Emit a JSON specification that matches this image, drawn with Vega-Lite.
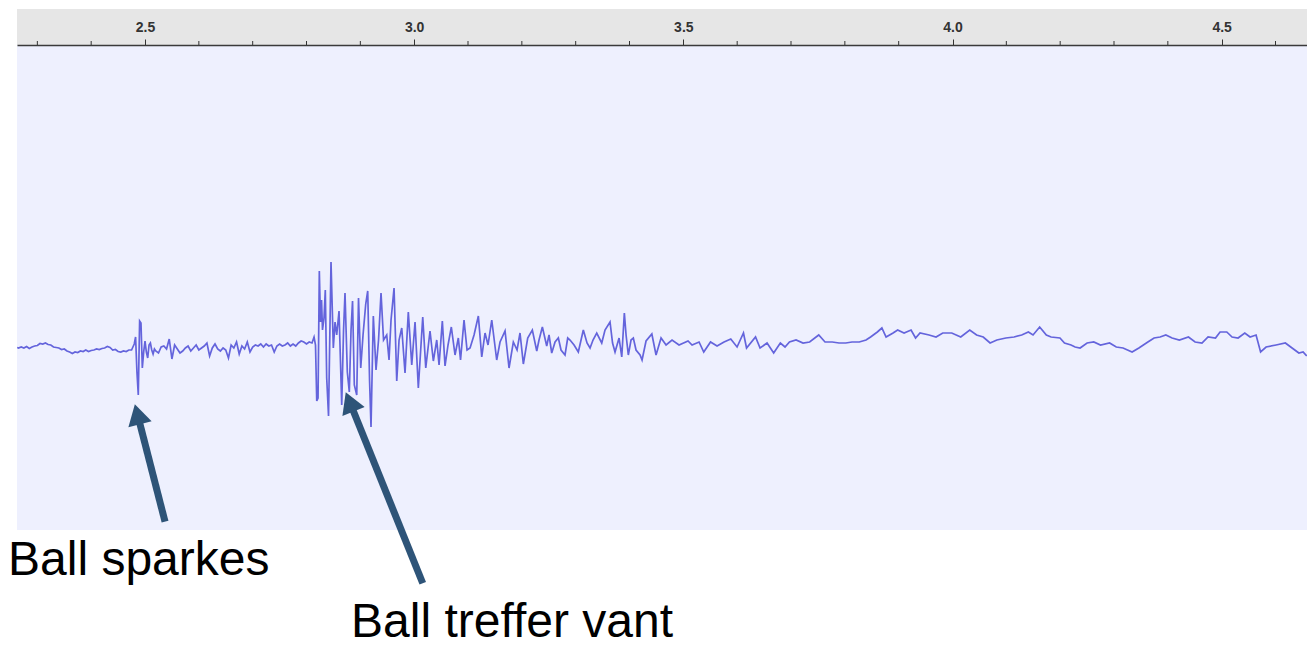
{
"$schema":"https://vega.github.io/schema/vega-lite/v6.json",
"autosize":{"type":"none"},
"padding":{"left":17,"top":45,"right":0,"bottom":118},
"width":1290,"height":485,
"background":"#ffffff",
"config":{"view":{"fill":"#eef0fe","stroke":null}},
"datasets":{
"wave":[
{"t":2.2625,"a":0.0025},{"t":2.265,"a":0},{"t":2.27,"a":0.005},{"t":2.275,"a":0},{"t":2.28,"a":0.0075},{"t":2.285,"a":-0.0025},{"t":2.29,"a":0.005},{"t":2.295,"a":0.01},{"t":2.3,"a":0.0125},{"t":2.305,"a":0.0225},{"t":2.31,"a":0.02},{"t":2.315,"a":0.025},{"t":2.32,"a":0.0175},{"t":2.325,"a":0.015},{"t":2.33,"a":0.005},{"t":2.335,"a":0.0025},{"t":2.34,"a":0},{"t":2.345,"a":-0.0075},{"t":2.35,"a":-0.005},{"t":2.355,"a":-0.015},{"t":2.36,"a":-0.02},{"t":2.365,"a":-0.0275},{"t":2.37,"a":-0.02},{"t":2.375,"a":-0.0225},{"t":2.38,"a":-0.015},{"t":2.385,"a":-0.0175},{"t":2.39,"a":-0.01},{"t":2.395,"a":-0.0175},{"t":2.4,"a":-0.0125},{"t":2.405,"a":-0.01},{"t":2.41,"a":-0.005},{"t":2.415,"a":-0.0075},{"t":2.42,"a":-0.0025},{"t":2.425,"a":0},{"t":2.43,"a":0.0075},{"t":2.435,"a":0.0025},{"t":2.44,"a":-0.01},{"t":2.445,"a":-0.0075},{"t":2.45,"a":-0.0175},{"t":2.455,"a":-0.02},{"t":2.46,"a":-0.015},{"t":2.465,"a":-0.0175},{"t":2.47,"a":-0.01},
{"t":2.4725,"a":-0.01},{"t":2.475,"a":-0.01},{"t":2.4775,"a":0.005},{"t":2.48,"a":0.02},{"t":2.4825,"a":0.055},{"t":2.485,"a":-0.12},{"t":2.4875,"a":-0.235},{"t":2.49,"a":0.135},{"t":2.4925,"a":0.125},{"t":2.495,"a":-0.1},{"t":2.4975,"a":-0.02},{"t":2.5,"a":0.035},{"t":2.5025,"a":-0.02},{"t":2.505,"a":-0.05},{"t":2.5075,"a":0.015},{"t":2.51,"a":0.025},{"t":2.5125,"a":-0.01},{"t":2.515,"a":-0.03},{"t":2.5175,"a":-0.005},{"t":2.52,"a":-0.015},{"t":2.525,"a":-0.025},{"t":2.53,"a":0.005},
{"t":2.535,"a":0.01},{"t":2.54,"a":-0.005},{"t":2.545,"a":0.045},{"t":2.55,"a":-0.055},{"t":2.555,"a":0.015},{"t":2.56,"a":-0.005},{"t":2.565,"a":-0.025},{"t":2.57,"a":-0.015},{"t":2.575,"a":0},{"t":2.58,"a":0.01},{"t":2.585,"a":-0.015},{"t":2.59,"a":0},{"t":2.595,"a":0.015},{"t":2.6,"a":-0.01},{"t":2.605,"a":0},{"t":2.61,"a":0.01},{"t":2.615,"a":0.025},{"t":2.62,"a":-0.04},{"t":2.625,"a":0},{"t":2.63,"a":0.02},{"t":2.635,"a":-0.005},{"t":2.64,"a":-0.015},{"t":2.645,"a":0},{"t":2.65,"a":-0.01},{"t":2.655,"a":-0.05},{"t":2.66,"a":0.015},{"t":2.665,"a":0},{"t":2.67,"a":0.03},{"t":2.675,"a":-0.03},{"t":2.68,"a":0.01},{"t":2.685,"a":-0.005},{"t":2.69,"a":0.03},{"t":2.695,"a":-0.02},{"t":2.7,"a":0.005},{"t":2.705,"a":0.015},{"t":2.71,"a":0.01},{"t":2.715,"a":0.02},{"t":2.72,"a":0.005},{"t":2.725,"a":0.02},{"t":2.73,"a":0.01},{"t":2.735,"a":0.015},{"t":2.74,"a":-0.02},{"t":2.745,"a":0.01},{"t":2.75,"a":0.02},{"t":2.755,"a":0.01},{"t":2.76,"a":0.015},{"t":2.765,"a":0.025},{"t":2.77,"a":0.01},{"t":2.775,"a":0.02},{"t":2.78,"a":0.01},{"t":2.785,"a":0.025},{"t":2.79,"a":0.035},{"t":2.795,"a":0.03},{"t":2.8,"a":0.02},{"t":2.805,"a":0.03},
{"t":2.8102,"a":0.025},{"t":2.814,"a":0.055},{"t":2.8167,"a":0.015},{"t":2.819,"a":-0.265},{"t":2.8214,"a":-0.25},{"t":2.8238,"a":0.385},{"t":2.826,"a":0.13},{"t":2.8279,"a":0.24},{"t":2.8297,"a":0.09},{"t":2.8325,"a":0.15},{"t":2.8349,"a":0.29},{"t":2.8375,"a":-0.15},{"t":2.8409,"a":-0.34},{"t":2.8455,"a":0.43},{"t":2.8498,"a":0},{"t":2.853,"a":0.13},{"t":2.8561,"a":0.065},{"t":2.8604,"a":0.185},{"t":2.8654,"a":-0.285},{"t":2.8688,"a":0.09},{"t":2.8715,"a":0.275},{"t":2.8758,"a":-0.12},{"t":2.8795,"a":-0.22},{"t":2.8827,"a":0.09},{"t":2.8855,"a":0.235},{"t":2.8888,"a":-0.185},{"t":2.8933,"a":-0.235},{"t":2.8966,"a":0.25},{"t":2.9007,"a":-0.1},{"t":2.905,"a":0.065},{"t":2.91,"a":0.22},{"t":2.9137,"a":0.285},{"t":2.9171,"a":-0.16},{"t":2.9198,"a":-0.395},{"t":2.9241,"a":0.16},{"t":2.9291,"a":-0.11},{"t":2.9338,"a":0.04},{"t":2.9384,"a":0.275},{"t":2.9431,"a":0.04},{"t":2.949,"a":0.065},{"t":2.9533,"a":-0.06},{"t":2.957,"a":0.14},{"t":2.9626,"a":0.3},{"t":2.9676,"a":-0.165},{"t":2.9719,"a":0.04},{"t":2.9769,"a":0.1},{"t":2.983,"a":-0.125},{"t":2.9891,"a":0.18},{"t":2.9955,"a":-0.085},{"t":3.0016,"a":0.13},{"t":3.0077,"a":-0.2},{"t":3.0159,"a":0.155},{"t":3.0215,"a":-0.1},{"t":3.0294,"a":0.085},{"t":3.0356,"a":-0.065},{"t":3.0419,"a":0.04},{"t":3.0462,"a":-0.085},{"t":3.0523,"a":0.135},{"t":3.0573,"a":-0.09},{"t":3.0629,"a":0.015},{"t":3.069,"a":0.105},{"t":3.0759,"a":-0.035},{"t":3.082,"a":0.05},{"t":3.0861,"a":-0.06},{"t":3.0926,"a":0.14},{"t":3.0982,"a":-0.01},
{"t":3.1038,"a":0},{"t":3.1112,"a":0.065},{"t":3.1192,"a":0.16},{"t":3.1255,"a":-0.045},{"t":3.1316,"a":0.075},{"t":3.1372,"a":0.015},{"t":3.1441,"a":0.14},{"t":3.1533,"a":-0.06},{"t":3.1595,"a":0.03},{"t":3.1688,"a":0.085},{"t":3.1762,"a":-0.1},{"t":3.1842,"a":0.03},{"t":3.1911,"a":-0.01},{"t":3.1966,"a":0.075},{"t":3.2028,"a":-0.08},{"t":3.2109,"a":0.05},{"t":3.2195,"a":0.09},{"t":3.2277,"a":-0.015},{"t":3.2319,"a":0.04},{"t":3.2381,"a":0.105},{"t":3.2462,"a":0.01},{"t":3.2505,"a":0.065},{"t":3.2555,"a":-0.025},{"t":3.2617,"a":0.03},{"t":3.2678,"a":0.05},{"t":3.2728,"a":-0.01},{"t":3.2802,"a":-0.035},{"t":3.2852,"a":0.05},{"t":3.2895,"a":0.04},{"t":3.297,"a":0.015},{"t":3.3049,"a":-0.02},{"t":3.3142,"a":0.09},{"t":3.3211,"a":0.025},{"t":3.3267,"a":0},{"t":3.3322,"a":0.04},{"t":3.3391,"a":0.075},{"t":3.3484,"a":0.025},{"t":3.3545,"a":0.09},{"t":3.3638,"a":0.13},{"t":3.3685,"a":0.025},{"t":3.3731,"a":-0.02},{"t":3.3806,"a":0.05},{"t":3.3856,"a":-0.045},{"t":3.3904,"a":0.175},{"t":3.3936,"a":0.065},{"t":3.3978,"a":-0.035},{"t":3.4028,"a":0.04},{"t":3.4071,"a":0.05},{"t":3.4121,"a":-0.01},{"t":3.4196,"a":-0.035},{"t":3.4233,"a":-0.06},{"t":3.4307,"a":0.035},{"t":3.4415,"a":0.07},{"t":3.4493,"a":-0.035},{"t":3.4586,"a":0.05},{"t":3.4679,"a":0.015},{"t":3.479,"a":0.04},{"t":3.492,"a":0.015},{"t":3.5087,"a":0.035},{"t":3.5162,"a":0.015},{"t":3.5292,"a":0.03},{"t":3.5379,"a":-0.02},{"t":3.5505,"a":0.03},{"t":3.5626,"a":0.01},{"t":3.5756,"a":0.03},{"t":3.5881,"a":0.045},{"t":3.5998,"a":0.005},{"t":3.6117,"a":0.075},{"t":3.6174,"a":0},{"t":3.6341,"a":0.055},{"t":3.6425,"a":0},{"t":3.6555,"a":0.025},{"t":3.6678,"a":-0.025},{"t":3.6802,"a":0.025},{"t":3.6889,"a":0.005},{"t":3.6971,"a":0.03},{"t":3.7094,"a":0.04},{"t":3.7224,"a":0.025},{"t":3.7346,"a":0.03},{"t":3.7515,"a":0.065},{"t":3.7632,"a":0.03},{"t":3.7766,"a":0.03},{"t":3.7892,"a":0.025},{"t":3.8017,"a":0.025},{"t":3.8134,"a":0.03},{"t":3.8268,"a":0.03},{"t":3.8394,"a":0.04},{"t":3.8478,"a":0.055},{"t":3.8604,"a":0.08},{"t":3.8688,"a":0.1},{"t":3.8766,"a":0.055},{"t":3.8896,"a":0.075},{"t":3.8981,"a":0.09},{"t":3.91,"a":0.075},{"t":3.923,"a":0.09},{"t":3.9314,"a":0.05},{"t":3.9397,"a":0.075},{"t":3.9564,"a":0.065},{"t":3.9694,"a":0.055},{"t":3.9819,"a":0.075},{"t":3.9986,"a":0.075},{"t":4.0153,"a":0.055},{"t":4.032,"a":0.09},{"t":4.0447,"a":0.065},{"t":4.0571,"a":0.055},{"t":4.0698,"a":0.025},{"t":4.0824,"a":0.04},{"t":4.0991,"a":0.05},{"t":4.1143,"a":0.055},{"t":4.1285,"a":0.065},{"t":4.1409,"a":0.08},{"t":4.1496,"a":0.065},{"t":4.1619,"a":0.105},{"t":4.1743,"a":0.065},{"t":4.1831,"a":0.055},{"t":4.1996,"a":0.05},{"t":4.208,"a":0.025},{"t":4.2202,"a":0.015},{"t":4.2277,"a":0.005},{"t":4.237,"a":0},{"t":4.25,"a":0.025},{"t":4.2624,"a":0.03},{"t":4.275,"a":0.015},{"t":4.2918,"a":0.025},{"t":4.3042,"a":0.005},{"t":4.3168,"a":0},{"t":4.3336,"a":-0.02},{"t":4.3462,"a":0},{"t":4.3629,"a":0.03},{"t":4.3744,"a":0.05},{"t":4.3856,"a":0.055},{"t":4.3963,"a":0.065},{"t":4.4079,"a":0.05},{"t":4.4214,"a":0.04},{"t":4.4383,"a":0.055},{"t":4.4506,"a":0.03},{"t":4.4634,"a":0.025},{"t":4.4747,"a":0.055},{"t":4.4885,"a":0.05},{"t":4.497,"a":0.08},{"t":4.5095,"a":0.08},{"t":4.5193,"a":0.055},{"t":4.5305,"a":0.05},{"t":4.5429,"a":0.075},{"t":4.5528,"a":0.055},{"t":4.5639,"a":0.065},{"t":4.5723,"a":-0.02},{"t":4.5825,"a":0.005},{"t":4.6011,"a":0.015},{"t":4.6183,"a":0.025},{"t":4.6308,"a":0},{"t":4.6434,"a":-0.025},{"t":4.6512,"a":-0.02},{"t":4.658,"a":-0.04}
],
"minor":[{"t":2.3},{"t":2.4},{"t":2.6},{"t":2.7},{"t":2.8},{"t":2.9},{"t":3.1},{"t":3.2},{"t":3.3},{"t":3.4},{"t":3.6},{"t":3.7},{"t":3.8},{"t":3.9},{"t":4.1},{"t":4.2},{"t":4.3},{"t":4.4},{"t":4.6}],
"notes":[
{"label":"Ball sparkes","t0":2.5372,"a0":-0.8685,"t1":2.4859,"a1":-0.331,"dir":345.6,"lt":2.2455,"la":-1.135},
{"label":"Ball treffer vant","t0":3.0159,"a0":-1.1765,"t1":2.8801,"a1":-0.269,"dir":338,"lt":2.8827,"la":-1.445}
]
},
"layer":[
{
"data":{"values":[{"x0":2.2622,"x1":4.6585,"y0":1.515,"y1":1.695}]},
"mark":{"type":"rect","color":"#e6e6e6","clip":false},
"encoding":{
"x":{"field":"x0","type":"quantitative","scale":{"domain":[2.2622,4.6585],"nice":false,"zero":false},
"axis":{"orient":"top","title":null,"grid":false,"zindex":1,
"values":[2.5,3.0,3.5,4.0,4.5],
"format":".1f",
"tickSize":6,"tickColor":"#333333","tickWidth":1,"domainColor":"#3a3a3a","domainWidth":1.5,
"labelFont":"Liberation Sans","labelFontSize":14,"labelFontWeight":"bold","labelColor":"#333333","labelPadding":5,
"labelOverlap":false,"labelFlush":false}},
"x2":{"field":"x1"},
"y":{"field":"y0","type":"quantitative","scale":{"domain":[-0.91,1.515],"nice":false,"zero":false},"axis":null},
"y2":{"field":"y1"}
}
},
{
"data":{"name":"minor"},
"mark":{"type":"rule","color":"#333333","strokeWidth":1,"clip":false},
"encoding":{
"x":{"field":"t","type":"quantitative"},
"y":{"datum":1.515,"type":"quantitative"},
"y2":{"datum":1.535}
}
},
{
"data":{"name":"wave"},
"mark":{"type":"line","color":"#6464dc","strokeWidth":1.7,"clip":true},
"encoding":{
"x":{"field":"t","type":"quantitative"},
"y":{"field":"a","type":"quantitative"}
}
},
{
"data":{"name":"notes"},
"mark":{"type":"rule","color":"#2e5478","strokeWidth":7,"clip":false},
"encoding":{
"x":{"field":"t0","type":"quantitative"},
"y":{"field":"a0","type":"quantitative"},
"x2":{"field":"t1"},
"y2":{"field":"a1"}
}
},
{
"data":{"name":"notes"},
"mark":{"type":"point","shape":"triangle-up","filled":true,"color":"#2e5478","opacity":1,"size":576,"strokeWidth":0,"clip":false},
"encoding":{
"x":{"field":"t1","type":"quantitative"},
"y":{"field":"a1","type":"quantitative"},
"angle":{"field":"dir","type":"quantitative","scale":null}
}
},
{
"data":{"name":"notes"},
"mark":{"type":"text","align":"left","baseline":"alphabetic","font":"Liberation Sans","fontSize":48,"color":"#000000","clip":false},
"encoding":{
"x":{"field":"lt","type":"quantitative"},
"y":{"field":"la","type":"quantitative"},
"text":{"field":"label"}
}
}
]
}
